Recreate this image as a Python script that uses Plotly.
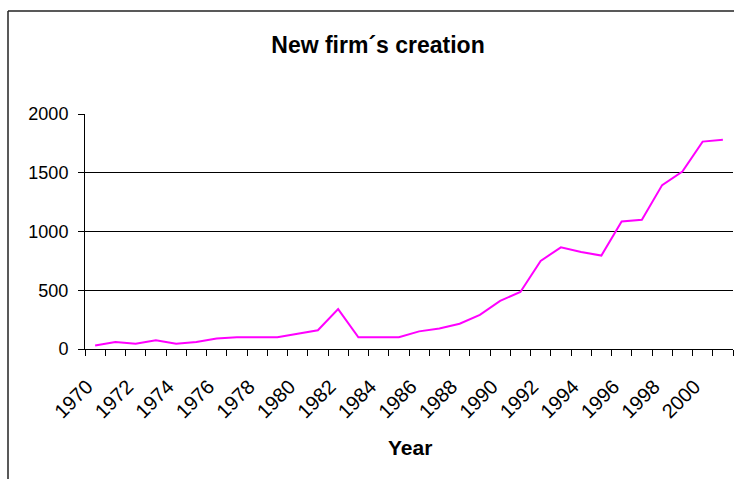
import plotly.graph_objects as go

years = list(range(1970, 2002))
new_firms = [30, 60, 45, 75, 45, 60, 90, 100, 100, 100, 130, 160, 340, 100, 100, 100,
             150, 175, 215, 290, 410, 485, 750, 865, 825, 795, 1085, 1100, 1395, 1510, 1765, 1780]
tick_years = list(range(1970, 2001, 2))
y_ticks = [0, 500, 1000, 1500, 2000]

W, H = 734, 479
ML, MR, MT, MB = 85, 1, 114, 130
PW, PH = W - ML - MR, H - MT - MB
LABEL_SHIFT = 0.4  # rotated labels sit slightly left of the category centre, as in the reference

def px_x(px):
    return (px - ML) / PW

def px_y(py):
    return (H - MB - py) / PH

fig = go.Figure()
fig.add_trace(go.Scatter(x=years, y=new_firms, mode="lines",
                         line=dict(color="#FF00FF", width=2), showlegend=False,
                         hoverinfo="x+y"))

fig.update_layout(
    width=W, height=H,
    margin=dict(l=ML, r=MR, t=MT, b=MB),
    paper_bgcolor="white", plot_bgcolor="white",
    font=dict(family="Liberation Sans, Arial, sans-serif", color="black"),
    title=dict(text="<b>New firm´s creation</b>", x=px_x(378), xref="paper",
               y=1 - 45 / H, yref="container", xanchor="center", yanchor="middle",
               font=dict(size=23, color="black")),
    xaxis=dict(range=[1969.5, 2001.5], tickmode="array",
               tickvals=[y - LABEL_SHIFT for y in tick_years],
               ticktext=[str(y) for y in tick_years], tickangle=-45,
               ticks="", showgrid=False, zeroline=False,
               showline=True, linecolor="black", linewidth=1,
               ticklabelstandoff=17,
               tickfont=dict(size=20, color="black"),
               minor=dict(tick0=1969.5, dtick=1, ticks="outside", ticklen=6,
                          tickcolor="black", tickwidth=1, showgrid=False)),
    yaxis=dict(range=[0, 2000], tickmode="array", tickvals=y_ticks,
               ticks="outside", ticklen=6, tickcolor="black",
               showgrid=True, gridcolor="black", gridwidth=1, zeroline=False,
               showline=True, linecolor="black", linewidth=1,
               ticklabelstandoff=6,
               tickfont=dict(size=18, color="black")),
    annotations=[dict(text="<b>Year</b>", x=px_x(410), y=px_y(447), xref="paper", yref="paper",
                      showarrow=False, xanchor="center", yanchor="middle",
                      font=dict(size=21, color="black"))],
    shapes=[
        dict(type="line", xref="paper", yref="paper", x0=px_x(8), x1=px_x(736),
             y0=px_y(11), y1=px_y(11), line=dict(color="#222222", width=1.5)),
        dict(type="line", xref="paper", yref="paper", x0=px_x(8), x1=px_x(8),
             y0=px_y(11), y1=px_y(481), line=dict(color="#222222", width=1.5)),
    ],
)

fig.write_html("out.html", config={"displayModeBar": False},
               post_script="document.body.style.margin='0';document.body.style.overflow='hidden';")
